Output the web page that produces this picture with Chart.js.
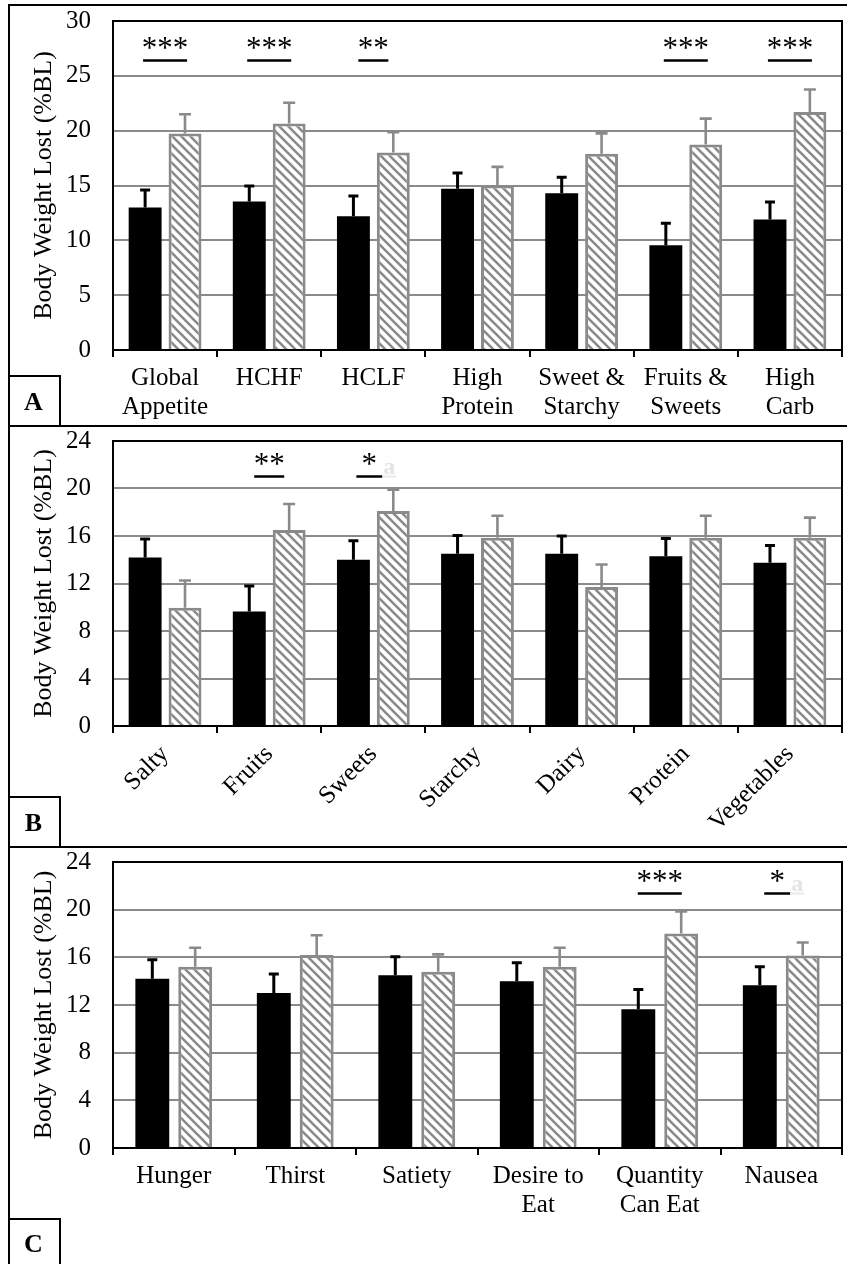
<!DOCTYPE html>
<html>
<head>
<meta charset="utf-8">
<script src="https://cdn.jsdelivr.net/npm/chart.js@4.4.1/dist/chart.umd.min.js"></script>
<style>
  html, body { margin: 0; padding: 0; background: #fff; }
  #fig { position: relative; width: 847px; height: 1264px; overflow: hidden; }
  canvas { position: absolute; left: 0; }
  .rule { position: absolute; background: #000; }
  .tag { position: absolute; left: 8px; width: 51px; border-top: 2px solid #000; border-right: 2px solid #000;
         font: bold 26px "Liberation Serif", serif; display: flex; align-items: center; justify-content: center; }
</style>
</head>
<body>
<div id="fig">
  <canvas id="panelA" width="847" height="426" style="top:0px"></canvas>
  <canvas id="panelB" width="847" height="421" style="top:426px"></canvas>
  <canvas id="panelC" width="847" height="417" style="top:847px"></canvas>

  <div class="rule" style="left:8px; top:4px; width:839px; height:2px"></div>
  <div class="rule" style="left:8px; top:4px; width:2px; height:1260px"></div>
  <div class="rule" style="left:8px; top:425px; width:839px; height:2px"></div>
  <div class="rule" style="left:8px; top:846px; width:839px; height:2px"></div>
  <div class="tag" style="top:375px; height:49px">A</div>
  <div class="tag" style="top:796px; height:49px">B</div>
  <div class="tag" style="top:1218px; height:48px">C</div>
</div>
<script>
// Panel A - appetite composite scores
const catsA = [['Global', 'Appetite'], 'HCHF', 'HCLF', ['High', 'Protein'], ['Sweet &', 'Starchy'], ['Fruits &', 'Sweets'], ['High', 'Carb']];
const blackA = [13.0, 13.55, 12.2, 14.7, 14.3, 9.55, 11.9];
const blackErrA = [14.6, 14.95, 14.05, 16.15, 15.75, 11.55, 13.5];
const hatchA = [19.75, 20.65, 18.0, 15.0, 17.9, 18.75, 21.7];
const hatchErrA = [21.5, 22.55, 19.85, 16.7, 19.75, 21.1, 23.75];
const sigA = ['***', '***', '**', '', '', '***', '***'];
const noteA = ['', '', '', '', '', '', ''];

// Panel B - food preferences
const catsB = ['Salty', 'Fruits', 'Sweets', 'Starchy', 'Dairy', 'Protein', 'Vegetables'];
const blackB = [14.2, 9.65, 14.0, 14.5, 14.5, 14.3, 13.75];
const blackErrB = [15.75, 11.8, 15.6, 16.05, 16.0, 15.8, 15.2];
const hatchB = [9.95, 16.5, 18.1, 15.85, 11.7, 15.85, 15.85];
const hatchErrB = [12.25, 18.7, 19.9, 17.7, 13.6, 17.7, 17.55];
const sigB = ['', '**', '*', '', '', '', ''];
const noteB = ['', '', 'a', '', '', '', ''];

// Panel C - appetite sensations
const catsC = ['Hunger', 'Thirst', 'Satiety', ['Desire to', 'Eat'], ['Quantity', 'Can Eat'], 'Nausea'];
const blackC = [14.2, 13.0, 14.5, 14.0, 11.65, 13.65];
const blackErrC = [15.8, 14.6, 16.05, 15.55, 13.3, 15.2];
const hatchC = [15.2, 16.2, 14.8, 15.2, 18.0, 16.15];
const hatchErrC = [16.8, 17.85, 16.25, 16.8, 19.85, 17.25];
const sigC = ['', '', '', '', '***', '*'];
const noteC = ['', '', '', '', '', 'a'];

const GRAY = '#8a8a8a';
const SERIF = '"Liberation Serif", "Times New Roman", serif';

function makeHatch() {
    const s = 9;
    const c = document.createElement('canvas');
    c.width = s; c.height = s;
    const g = c.getContext('2d');
    g.fillStyle = '#fff';
    g.fillRect(0, 0, s, s);
    g.strokeStyle = GRAY;
    g.lineWidth = 2.6;
    g.beginPath();
    for (let k = -1; k <= 1; k++) {
        g.moveTo(k * s - 1, -1);
        g.lineTo(k * s + s + 1, s + 1);
    }
    g.stroke();
    return g.createPattern(c, 'repeat');
}

// error bars, plot frame and significance marks
const extras = {
    id: 'extras',
    afterDatasetsDraw(chart, args, o) {
        const ctx = chart.ctx;
        const y = chart.scales.y;
        ctx.save();
        [[0, o.blackErr, '#000', 3, 10], [1, o.hatchErr, GRAY, 2.6, 12]].forEach(([di, errs, col, lw, cap]) => {
            const meta = chart.getDatasetMeta(di);
            ctx.strokeStyle = col;
            ctx.lineWidth = lw;
            meta.data.forEach((bar, i) => {
                const top = y.getPixelForValue(errs[i]);
                ctx.beginPath();
                ctx.moveTo(bar.x, bar.y);
                ctx.lineTo(bar.x, top);
                ctx.moveTo(bar.x - cap / 2, top);
                ctx.lineTo(bar.x + cap / 2, top);
                ctx.stroke();
            });
        });
        const a = chart.chartArea;
        ctx.strokeStyle = '#000';
        ctx.lineWidth = 2;
        ctx.strokeRect(a.left, a.top, a.right - a.left, a.bottom - a.top);

        const x = chart.scales.x;
        const ly = Math.round(y.getPixelForValue(o.sigY)) + 0.5;
        ctx.textBaseline = 'alphabetic';
        o.sig.forEach((s, i) => {
            if (!s) return;
            let cx = x.getPixelForValue(i);
            const half = s.length === 1 ? 13 : s.length * 7 + 1;
            if (o.note[i]) cx -= 4;
            ctx.font = '31px ' + SERIF;
            ctx.fillStyle = '#000';
            ctx.textAlign = 'center';
            ctx.fillText(s, cx, ly - 3);
            ctx.strokeStyle = '#000';
            ctx.lineWidth = 2.5;
            ctx.beginPath();
            ctx.moveTo(cx - half, ly);
            ctx.lineTo(cx + half, ly);
            ctx.stroke();
            if (o.note[i]) {
                ctx.fillStyle = '#e4e4e4';
                ctx.textAlign = 'left';
                ctx.font = 'bold 24px ' + SERIF;
                ctx.fillText(o.note[i], cx + half + 1, ly - 3);
                ctx.strokeStyle = '#ececec';
                ctx.beginPath();
                ctx.moveTo(cx + half, ly);
                ctx.lineTo(cx + half + 14, ly);
                ctx.stroke();
            }
        });
        ctx.restore();
    }
};

function makePanel(id, cats, black, blackErr, hatch, hatchErr, sig, note, p) {
    const ctx = document.getElementById(id).getContext('2d');
    return new Chart(ctx, {
        type: 'bar',
        data: {
            labels: cats,
            datasets: [{
                data: black,
                backgroundColor: '#000',
                borderWidth: 0,
                categoryPercentage: p.catPct,
                barPercentage: p.barPct
            }, {
                data: hatch,
                backgroundColor: makeHatch(),
                borderColor: GRAY,
                borderWidth: 3,
                categoryPercentage: p.catPct,
                barPercentage: p.barPct
            }]
        },
        options: {
            responsive: false,
            devicePixelRatio: 1,
            animation: false,
            layout: { padding: { top: p.top, right: 5, left: 0, bottom: 0 } },
            plugins: {
                legend: { display: false },
                tooltip: { enabled: false },
                extras: { blackErr, hatchErr, sig, note, sigY: p.sigY }
            },
            scales: {
                y: {
                    min: 0, max: p.max,
                    afterFit: s => { s.width = 113; s.paddingTop = 0; s.paddingBottom = 0; },
                    ticks: { stepSize: p.step, color: '#000', padding: 22, font: { family: SERIF, size: 25 } },
                    grid: { color: GRAY, lineWidth: 2, drawTicks: false },
                    border: { color: '#000', width: 2 },
                    title: {
                        display: true, text: 'Body Weight Lost (%BL)', color: '#000',
                        font: { family: SERIF, size: 26, lineHeight: 1.2 }, padding: { top: 29 }
                    }
                },
                x: {
                    afterFit: s => { s.height = p.xh; s.paddingLeft = 0; s.paddingRight = 0; },
                    grid: { offset: true, drawOnChartArea: false, color: '#000', lineWidth: 2, tickLength: 7 },
                    border: { color: '#000', width: 2 },
                    ticks: {
                        color: '#000', padding: 7, autoSkip: false,
                        maxRotation: p.rot, minRotation: p.rot,
                        font: { family: SERIF, size: 25, lineHeight: 1.15 }
                    }
                }
            }
        },
        plugins: [extras]
    });
}

makePanel('panelA', catsA, blackA, blackErrA, hatchA, hatchErrA, sigA, noteA,
    { top: 21, xh: 76, max: 30, step: 5, sigY: 26.45, catPct: 0.766, barPct: 0.825, rot: 0 });
makePanel('panelB', catsB, blackB, blackErrB, hatchB, hatchErrB, sigB, noteB,
    { top: 15, xh: 121, max: 24, step: 4, sigY: 21.05, catPct: 0.766, barPct: 0.825, rot: 45 });
makePanel('panelC', catsC, blackC, blackErrC, hatchC, hatchErrC, sigC, noteC,
    { top: 15, xh: 116, max: 24, step: 4, sigY: 21.4, catPct: 0.706, barPct: 0.79, rot: 0 });
</script>
</body>
</html>
